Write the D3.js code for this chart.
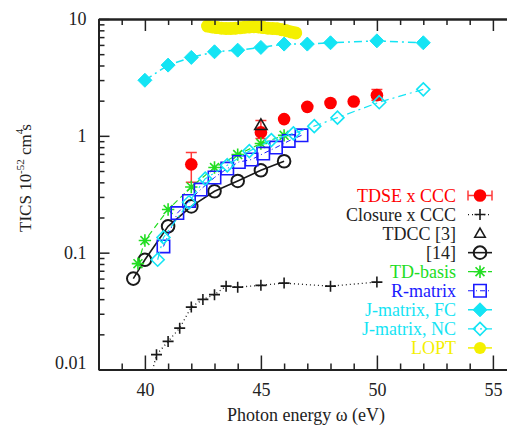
<!DOCTYPE html>
<html>
<head>
<meta charset="utf-8">
<script src="https://cdn.jsdelivr.net/npm/d3@7"></script>
<style>
  body { margin: 0; background: #fff; }
  svg { display: block; }
</style>
</head>
<body>
<div id="chart"></div>
<script>
// values (photon energy in eV, TICS in 1e-52 cm^4 s)
const tdseX = [42, 45, 46, 47, 48, 49, 50];
const tdseY = [0.57, 1.07, 1.39, 1.77, 1.91, 1.97, 2.23];
const tdseLo = [0.40, 0.95, null, null, null, null, 2.02];
const tdseHi = [0.72, 1.35, null, null, null, null, 2.49];

const closureX = [40.25, 40.5, 41, 41.5, 42, 42.5, 43, 43.5, 44, 45, 46, 48, 50];
const closureY = [0.0085, 0.0134, 0.0174, 0.0226, 0.0342, 0.0398, 0.0437, 0.0517, 0.0507, 0.0525, 0.0549, 0.0517, 0.056];

const tdccX = [45];
const tdccY = [1.23];

const ref14X = [39.5, 40, 41, 42, 43, 44, 45, 46];
const ref14Y = [0.060, 0.087, 0.168, 0.249, 0.335, 0.411, 0.507, 0.606];

const tdBasisX = [39.7, 40, 41, 42, 43, 44, 45, 46];
const tdBasisY = [0.0805, 0.127, 0.234, 0.365, 0.535, 0.691, 0.859, 1.01];

const rMatrixX = [40.8, 41.4, 41.9, 42.4, 43.0, 43.55, 44.05, 44.6, 45.1, 45.65, 46.2, 46.75];
const rMatrixY = [0.113, 0.218, 0.277, 0.347, 0.44, 0.525, 0.597, 0.627, 0.705, 0.794, 0.904, 1.01];

const jFcX = [40, 41, 42, 43, 44, 45, 46, 47, 48, 50, 52];
const jFcY = [2.99, 4.03, 4.69, 5.24, 5.41, 5.71, 6.1, 6.1, 6.26, 6.5, 6.26];

const jNcX = [40.55, 40.8, 41.9, 42.6, 43.55, 44.5, 45.45, 46.4, 47.3, 48.3, 50.1, 52];
const jNcY = [0.087, 0.135, 0.27, 0.43, 0.56, 0.74, 0.92, 1.05, 1.21, 1.43, 1.94, 2.5];

const loptX = [42.7, 42.9, 43.1, 43.3, 43.5, 43.7, 43.9, 44.1, 44.3, 44.5, 44.7, 44.9, 45.1, 45.3, 45.5, 45.7, 45.9, 46.1, 46.3, 46.5];
const loptY = [8.7, 8.55, 8.45, 8.35, 8.3, 8.3, 8.35, 8.4, 8.5, 8.55, 8.6, 8.55, 8.45, 8.35, 8.3, 8.25, 8.1, 7.95, 7.75, 7.6];

const xMajor = [40, 45, 50, 55];
const yMajor = [0.01, 0.1, 1, 10];
const yLabels = ["0.01", "0.1", "1", "10"];

var width = 507,
    height = 429;

// pick an installed serif face (measured against monospace fallback)
var fontFace = (function () {
    var ctx = document.createElement("canvas").getContext("2d");
    var probe = "Photon energy TICS 0.01 mmmwwwiii";
    ctx.font = "20px monospace";
    var base = ctx.measureText(probe).width;
    var cands = ["Liberation Serif", "Times New Roman", "Tinos", "Nimbus Roman", "DejaVu Serif", "Noto Serif", "FreeSerif"];
    for (var i = 0; i < cands.length; i++) {
        ctx.font = "20px '" + cands[i] + "', monospace";
        if (Math.abs(ctx.measureText(probe).width - base) > 0.5) return "'" + cands[i] + "', serif";
    }
    return "serif";
})();

var x = d3.scaleLinear().domain([38, 56]).range([98.5, 98.5 + 18 * 23.2]);
var y = d3.scaleLog().domain([0.01, 10]).range([369.5, 19]);

var svg = d3.select("#chart").append("svg")
    .attr("width", width)
    .attr("height", height)
    .style("font-family", fontFace);

svg.append("defs").append("clipPath").attr("id", "plot-clip")
  .append("rect")
    .attr("x", x(38)).attr("y", y(10))
    .attr("width", x(56) - x(38)).attr("height", y(0.01) - y(10));

// marker shapes
function markerPath(type, s) {
    if (type == "plus") return "M" + (-s) + ",0H" + s + "M0," + (-s) + "V" + s;
    if (type == "star") {
        var d = s * 0.72;
        return "M" + (-s) + ",0H" + s + "M0," + (-s) + "V" + s +
               "M" + (-d) + "," + (-d) + "L" + d + "," + d + "M" + (-d) + "," + d + "L" + d + "," + (-d);
    }
    if (type == "square") return "M" + (-s) + "," + (-s) + "H" + s + "V" + s + "H" + (-s) + "Z";
    if (type == "diamond") return "M0," + (-s) + "L" + s + ",0L0," + s + "L" + (-s) + ",0Z";
    if (type == "triangle") return "M0," + (-s) + "L" + (s * 0.95) + "," + (s * 0.65) + "L" + (-s * 0.95) + "," + (s * 0.65) + "Z";
    return "";
}

const red = "#ff0000", black = "#1a1a1a", green = "#22dd22", blue = "#1a1aff", cyan = "#14e4f4", yellow = "#f4f000";

const series = [
    { name: "TDSE x CCC", xs: tdseX, ys: tdseY, color: red, text: red, dash: null, marker: "dot" },
    { name: "Closure x CCC", xs: closureX, ys: closureY, color: black, text: "#222", dash: "1,3", width: 1.3, marker: "plus", size: 5.5, fill: "none" },
    { name: "TDCC [3]", xs: tdccX, ys: tdccY, color: black, text: "#222", dash: null, marker: "triangle", size: 6.5, fill: "none" },
    { name: "[14]", xs: ref14X, ys: ref14Y, color: black, text: "#222", dash: "none", width: 1.6, marker: "circle", size: 6.3 },
    { name: "TD-basis", xs: tdBasisX, ys: tdBasisY, color: green, text: green, dash: "6,4", width: 1.2, marker: "star", size: 6.2, fill: "none" },
    { name: "R-matrix", xs: rMatrixX, ys: rMatrixY, color: blue, text: blue, dash: "5,3,1,3", width: 1, marker: "square", size: 6.2, fill: "none" },
    { name: "J-matrix, FC", xs: jFcX, ys: jFcY, color: cyan, text: cyan, dash: "8,4,2,4", width: 1.5, marker: "diamond", size: 7, fill: cyan },
    { name: "J-matrix, NC", xs: jNcX, ys: jNcY, color: cyan, text: cyan, dash: "8,4,2,4", width: 1.2, marker: "diamond", size: 6.5, fill: "none" },
    { name: "LOPT", xs: loptX, ys: loptY, color: yellow, text: yellow, dash: "none", width: 12, marker: "blob", size: 6.5 }
];

var plot = svg.append("g").attr("clip-path", "url(#plot-clip)");

function drawMarker(g, s, px, py) {
    if (s.marker == "dot") {
        g.append("circle").attr("cx", px).attr("cy", py).attr("r", 6.3).attr("fill", s.color);
    } else if (s.marker == "circle") {
        g.append("circle").attr("cx", px).attr("cy", py).attr("r", s.size)
            .attr("fill", "none").attr("stroke", s.color).attr("stroke-width", 2);
    } else if (s.marker == "blob") {
        g.append("circle").attr("cx", px).attr("cy", py).attr("r", s.size).attr("fill", s.color);
    } else {
        g.append("path").attr("transform", "translate(" + px + "," + py + ")")
            .attr("d", markerPath(s.marker, s.size))
            .attr("fill", s.fill)
            .attr("stroke", s.color)
            .attr("stroke-width", s.marker == "diamond" && s.fill != "none" ? 1 : 1.6)
            .attr("stroke-linejoin", "miter");
    }
}

series.forEach(function (s) {
    var pts = d3.zip(s.xs, s.ys);
    var g = plot.append("g").attr("class", "series");
    if (s.dash) {
        g.append("path")
            .attr("d", d3.line().x(function (d) { return x(d[0]); }).y(function (d) { return y(d[1]); })(pts))
            .attr("fill", "none")
            .attr("stroke", s.color)
            .attr("stroke-width", s.width)
            .attr("stroke-linecap", s.marker == "blob" ? "round" : "butt")
            .attr("stroke-dasharray", s.dash == "none" ? null : s.dash);
    }
    if (s.marker == "dot") {
        // error bars
        tdseX.forEach(function (v, i) {
            if (tdseLo[i] == null) return;
            var eb = g.append("g").attr("stroke", "#ff3a3a").attr("stroke-width", 1.5);
            eb.append("line").attr("x1", x(v)).attr("x2", x(v)).attr("y1", y(tdseLo[i])).attr("y2", y(tdseHi[i]));
            [tdseLo[i], tdseHi[i]].forEach(function (e) {
                eb.append("line").attr("x1", x(v) - 5.5).attr("x2", x(v) + 5.5).attr("y1", y(e)).attr("y2", y(e));
            });
        });
    }
    pts.forEach(function (d) { drawMarker(g, s, x(d[0]), y(d[1])); });
});

// axes
var axisColor = "#222";
function styleAxis(g, labels) {
    g.attr("font-family", null).attr("font-size", null);
    g.select(".domain").attr("stroke", axisColor).attr("stroke-width", 2);
    g.selectAll(".tick line").attr("stroke", axisColor).attr("stroke-width", 1.5);
    g.selectAll(".tick text").attr("fill", "#222").style("font-size", "18px");
    if (!labels) g.selectAll(".tick text").remove();
}

var xMinor = d3.range(38, 57).filter(function (v) { return xMajor.indexOf(v) < 0; });
var yMinor = [];
[0.01, 0.1, 1].forEach(function (dec) {
    d3.range(2, 10).forEach(function (m) { yMinor.push(+(dec * m).toPrecision(3)); });
});

svg.append("g").attr("transform", "translate(0," + y(0.01) + ")")
    .call(d3.axisBottom(x).tickValues(xMajor).tickSize(-14).tickSizeOuter(0).tickPadding(14).tickFormat(d3.format("d")))
    .call(styleAxis, true);
svg.append("g").attr("transform", "translate(0," + y(0.01) + ")")
    .call(d3.axisBottom(x).tickValues(xMinor).tickSize(-6).tickSizeOuter(0))
    .call(styleAxis, false);

svg.append("g").attr("transform", "translate(0," + y(10) + ")")
    .call(d3.axisTop(x).tickValues(xMajor).tickSize(-12).tickSizeOuter(0))
    .call(styleAxis, false);
svg.append("g").attr("transform", "translate(0," + y(10) + ")")
    .call(d3.axisTop(x).tickValues(xMinor).tickSize(-6).tickSizeOuter(0))
    .call(styleAxis, false);

var gy = svg.append("g").attr("transform", "translate(" + x(38) + ",0)")
    .call(d3.axisLeft(y).tickValues(yMajor).tickSize(-11).tickSizeOuter(0).tickPadding(12)
        .tickFormat(function (d, i) { return yLabels[i]; }))
    .call(styleAxis, true);
gy.selectAll(".tick text").filter(function (d) { return d == 0.01; }).attr("dy", "-0.05em");
svg.append("g").attr("transform", "translate(" + x(38) + ",0)")
    .call(d3.axisLeft(y).tickValues(yMinor).tickSize(-6).tickSizeOuter(0))
    .call(styleAxis, false);

// axis titles
svg.append("text")
    .attr("x", 306).attr("y", 421)
    .attr("text-anchor", "middle")
    .attr("fill", "#222")
    .style("font-size", "18px")
    .text("Photon energy \u03c9 (eV)");

var yt = svg.append("text")
    .attr("transform", "translate(31,178) rotate(-90)")
    .attr("text-anchor", "middle")
    .attr("fill", "#222")
    .style("font-size", "17px");
yt.append("tspan").text("TICS 10");
yt.append("tspan").attr("dy", -7).style("font-size", "11px").text("-52");
yt.append("tspan").attr("dy", 7).text(" cm");
yt.append("tspan").attr("dy", -8).style("font-size", "11px").text("4");
yt.append("tspan").attr("dy", 8).attr("dx", -2).text("s");

// legend
var legend = svg.append("g").attr("class", "legend");
series.forEach(function (s, i) {
    var cy = 195.5 + i * 19.05;
    var row = legend.append("g");
    row.append("text")
        .attr("x", 456).attr("y", cy + 6)
        .attr("text-anchor", "end")
        .attr("fill", s.text)
        .style("font-size", "18px")
        .text(s.name);
    var cx = 480;
    if (s.marker == "dot") {
        var eb = row.append("g").attr("stroke", "#ff3a3a").attr("stroke-width", 1.5);
        eb.append("line").attr("x1", 468).attr("x2", 492).attr("y1", cy).attr("y2", cy);
        eb.append("line").attr("x1", 468).attr("x2", 468).attr("y1", cy - 5).attr("y2", cy + 5);
        eb.append("line").attr("x1", 492).attr("x2", 492).attr("y1", cy - 5).attr("y2", cy + 5);
    } else if (s.dash) {
        row.append("line")
            .attr("x1", 468).attr("x2", 492).attr("y1", cy).attr("y2", cy)
            .attr("stroke", s.color)
            .attr("stroke-width", s.marker == "blob" ? 1.5 : Math.min(s.width, 1.6))
            .attr("stroke-dasharray", s.dash == "none" ? null : s.dash);
    }
    var ms = s.marker == "blob" ? { marker: "blob", size: 6, color: s.color } : s;
    if (s.marker == "triangle") ms = Object.assign({}, s, { size: 5.5 });
    drawMarker(row, ms, cx, cy);
});
</script>
</body>
</html>
